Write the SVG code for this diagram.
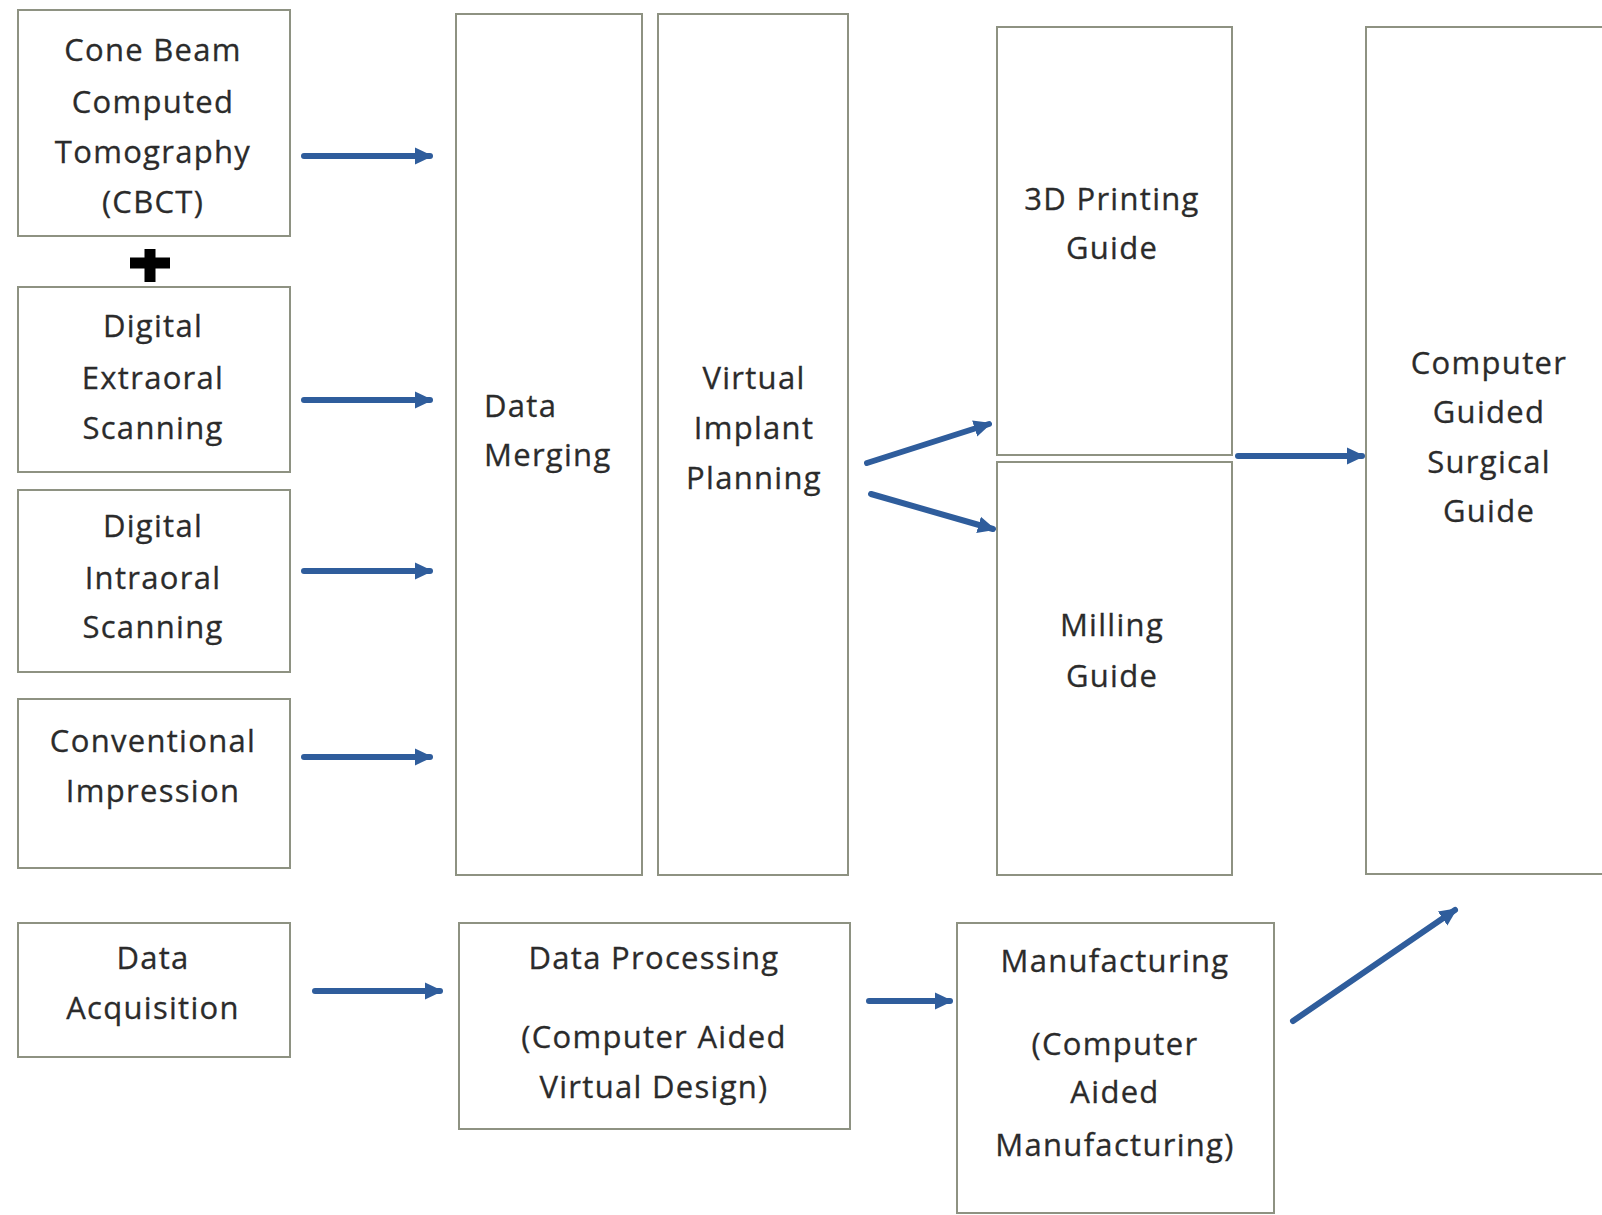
<svg xmlns="http://www.w3.org/2000/svg" width="1602" height="1215" viewBox="0 0 1602 1215">
<style>
.box{fill:#ffffff;stroke:#8e9282;stroke-width:2}
.t{font-family:"Open Sans","Liberation Sans",sans-serif;font-size:31px;letter-spacing:1.3px;fill:#2b2b2b;stroke:#2b2b2b;stroke-width:0.3;text-anchor:middle}
.tl{text-anchor:start}
.c{stroke:#2f5d9c;stroke-width:6;fill:none;stroke-linecap:round}
</style>
<defs>
<marker id="ah" markerWidth="4" markerHeight="4" refX="2.5" refY="2" orient="auto" markerUnits="strokeWidth">
<path d="M0,0.6 L3,2 L0,3.4 z" fill="#2f5d9c"/>
</marker>
</defs>
<rect width="1602" height="1215" fill="#ffffff"/>
<g id="cbct"><rect class="box" x="18" y="10" width="272" height="226"/>
<text class="t" x="153" y="61">Cone Beam</text><text class="t" x="153" y="113">Computed</text><text class="t" x="153" y="163">Tomography</text><text class="t" x="153" y="213">(CBCT)</text></g>
<g id="plus"><path d="M130,263 H170 M150,249 V282" stroke="#000" stroke-width="11"/></g>
<g id="extraoral"><rect class="box" x="18" y="287" width="272" height="185"/>
<text class="t" x="153" y="337">Digital</text><text class="t" x="153" y="389">Extraoral</text><text class="t" x="153" y="439">Scanning</text></g>
<g id="intraoral"><rect class="box" x="18" y="490" width="272" height="182"/>
<text class="t" x="153" y="537">Digital</text><text class="t" x="153" y="589">Intraoral</text><text class="t" x="153" y="638">Scanning</text></g>
<g id="conventional"><rect class="box" x="18" y="699" width="272" height="169"/>
<text class="t" x="153" y="752">Conventional</text><text class="t" x="153" y="802">Impression</text></g>
<g id="acquisition"><rect class="box" x="18" y="923" width="272" height="134"/>
<text class="t" x="153" y="969">Data</text><text class="t" x="153" y="1019">Acquisition</text></g>
<g id="merging"><rect class="box" x="456" y="14" width="186" height="861"/>
<text class="t tl" x="484" y="417">Data</text><text class="t tl" x="484" y="466">Merging</text></g>
<g id="planning"><rect class="box" x="658" y="14" width="190" height="861"/>
<text class="t" x="754" y="389">Virtual</text><text class="t" x="754" y="439">Implant</text><text class="t" x="754" y="489">Planning</text></g>
<g id="printing"><rect class="box" x="997" y="27" width="235" height="428"/>
<text class="t" x="1112" y="210">3D Printing</text><text class="t" x="1112" y="259">Guide</text></g>
<g id="milling"><rect class="box" x="997" y="462" width="235" height="413"/>
<text class="t" x="1112" y="636">Milling</text><text class="t" x="1112" y="687">Guide</text></g>
<g id="surgical"><rect class="box" x="1366" y="27" width="240" height="847"/>
<text class="t" x="1489" y="374">Computer</text><text class="t" x="1489" y="423">Guided</text><text class="t" x="1489" y="473">Surgical</text><text class="t" x="1489" y="522">Guide</text></g>
<g id="processing"><rect class="box" x="459" y="923" width="391" height="206"/>
<text class="t" x="654" y="969">Data Processing</text><text class="t" x="654" y="1048">(Computer Aided</text><text class="t" x="654" y="1098">Virtual Design)</text></g>
<g id="manufacturing"><rect class="box" x="957" y="923" width="317" height="290"/>
<text class="t" x="1115" y="972">Manufacturing</text><text class="t" x="1115" y="1055">(Computer</text><text class="t" x="1115" y="1103">Aided</text><text class="t" x="1115" y="1156">Manufacturing)</text></g>
<g id="connectors">
<line class="c" x1="304" y1="156" x2="430" y2="156" marker-end="url(#ah)"/>
<line class="c" x1="304" y1="400" x2="430" y2="400" marker-end="url(#ah)"/>
<line class="c" x1="304" y1="571" x2="430" y2="571" marker-end="url(#ah)"/>
<line class="c" x1="304" y1="757" x2="430" y2="757" marker-end="url(#ah)"/>
<line class="c" x1="315" y1="991" x2="440" y2="991" marker-end="url(#ah)"/>
<line class="c" x1="869" y1="1001" x2="950" y2="1001" marker-end="url(#ah)"/>
<line class="c" x1="867" y1="463" x2="989" y2="424" marker-end="url(#ah)"/>
<line class="c" x1="871" y1="494" x2="993" y2="529" marker-end="url(#ah)"/>
<line class="c" x1="1238" y1="456" x2="1362" y2="456" marker-end="url(#ah)"/>
<line class="c" x1="1293" y1="1021" x2="1455" y2="910" marker-end="url(#ah)"/>
</g>
</svg>
